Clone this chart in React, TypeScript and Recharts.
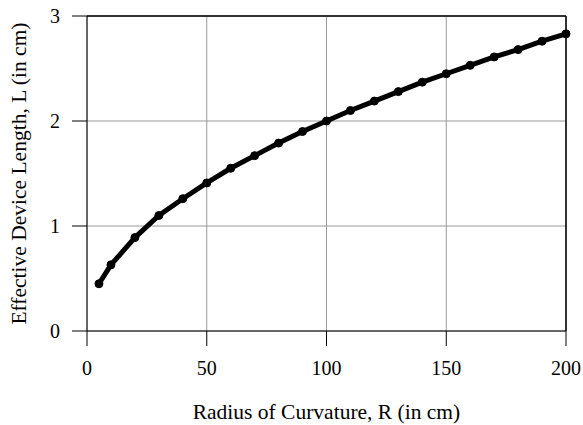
import React from "react";
import {
  LineChart,
  Line,
  XAxis,
  YAxis,
  CartesianGrid,
  ReferenceLine,
  Label,
} from "recharts";

const radius = [5, 10, 20, 30, 40, 50, 60, 70, 80, 90, 100, 110, 120, 130, 140, 150, 160, 170, 180, 190, 200];
const length = [0.45, 0.63, 0.89, 1.1, 1.26, 1.41, 1.55, 1.67, 1.79, 1.9, 2.0, 2.1, 2.19, 2.28, 2.37, 2.45, 2.53, 2.61, 2.68, 2.76, 2.83];
const xTicks = [0, 50, 100, 150, 200];
const yTicks = [0, 1, 2, 3];

const data = radius.map((r, i) => ({ r, L: length[i] }));

const FONT = "'Liberation Serif', 'Times New Roman', serif";

export default function App() {
  return (
    <div style={{ position: "absolute", left: 0, top: 0, background: "#fff" }}>
      <LineChart
        width={583}
        height={425}
        data={data}
        margin={{ top: 16, right: 17, bottom: 0, left: 0 }}
      >
        <CartesianGrid stroke="#999" strokeWidth={1} />
        <XAxis
          dataKey="r"
          type="number"
          domain={[0, 200]}
          ticks={xTicks}
          height={94}
          stroke="#000"
          tickSize={15}
          tickMargin={15}
          tick={{ fill: "#000", fontSize: 20, fontFamily: FONT }}
        >
          <Label
            value="Radius of Curvature, R (in cm)"
            position="insideBottom"
            offset={6}
            style={{ fill: "#000", fontSize: 21.5, fontFamily: FONT }}
          />
        </XAxis>
        <YAxis
          type="number"
          domain={[0, 3]}
          ticks={yTicks}
          width={87}
          stroke="#000"
          tickSize={15}
          tickMargin={12}
          tick={{ fill: "#000", fontSize: 20, fontFamily: FONT }}
        >
          <Label
            value="Effective Device Length, L  (in cm)"
            angle={-90}
            position="insideLeft"
            offset={18}
            style={{ textAnchor: "middle", fill: "#000", fontSize: 21.5, fontFamily: FONT, whiteSpace: "pre" }}
          />
        </YAxis>
        <ReferenceLine y={3} stroke="#000" strokeWidth={1.5} />
        <ReferenceLine x={200} stroke="#000" strokeWidth={1.5} />
        <Line
          dataKey="L"
          stroke="#000"
          strokeWidth={5}
          dot={{ r: 4, fill: "#000", stroke: "#000", strokeWidth: 1 }}
          isAnimationActive={false}
        />
      </LineChart>
    </div>
  );
}
